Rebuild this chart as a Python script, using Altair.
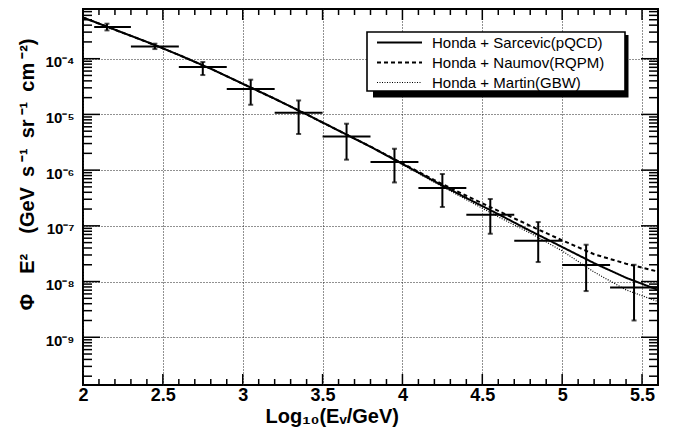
import altair as alt
import pandas as pd

# ---------------- data ----------------
series_names = ["Honda + Sarcevic(pQCD)", "Honda + Naumov(RQPM)", "Honda + Martin(GBW)"]

curve_x = [2.0, 2.2, 2.4, 2.6, 2.8, 3.0, 3.2, 3.4, 3.6, 3.8,
           4.0, 4.2, 4.4, 4.6, 4.8, 5.0, 5.2, 5.4, 5.6]
flux_sarcevic = [5.50e-4, 3.31e-4, 2.00e-4, 1.17e-4, 6.61e-5, 3.55e-5, 1.91e-5, 1.00e-5, 5.13e-6, 2.63e-6,
                 1.29e-6, 6.31e-7, 3.16e-7, 1.62e-7, 8.13e-8, 4.17e-8, 2.14e-8, 1.17e-8, 7.08e-9]
flux_naumov = [5.50e-4, 3.31e-4, 2.00e-4, 1.17e-4, 6.61e-5, 3.55e-5, 1.91e-5, 1.00e-5, 5.13e-6, 2.65e-6,
               1.32e-6, 6.61e-7, 3.47e-7, 1.86e-7, 1.00e-7, 5.50e-8, 3.09e-8, 2.09e-8, 1.51e-8]
flux_martin = [5.50e-4, 3.31e-4, 2.00e-4, 1.17e-4, 6.61e-5, 3.55e-5, 1.91e-5, 1.00e-5, 5.13e-6, 2.61e-6,
               1.26e-6, 6.03e-7, 2.95e-7, 1.45e-7, 7.41e-8, 3.55e-8, 1.48e-8, 7.08e-9, 4.37e-9]

bin_center = [2.15, 2.45, 2.75, 3.05, 3.35, 3.65, 3.95, 4.25, 4.55, 4.85, 5.15, 5.45]
bin_low = [2.07, 2.3, 2.6, 2.9, 3.2, 3.5, 3.8, 4.1, 4.4, 4.7, 5.0, 5.3]
bin_high = [2.3, 2.6, 2.9, 3.2, 3.5, 3.8, 4.1, 4.4, 4.7, 5.0, 5.3, 5.6]
flux_unfolded = [3.71e-4, 1.66e-4, 7.09e-5, 2.86e-5, 1.07e-5, 4.03e-6, 1.40e-6, 4.78e-7, 1.58e-7, 5.40e-8, 1.98e-8, 7.83e-9]
flux_err_low = [3.22e-4, 1.49e-4, 5.09e-5, 1.49e-5, 4.45e-6, 1.54e-6, 6.01e-7, 2.18e-7, 7.21e-8, 2.24e-8, 6.75e-9, 2.0e-9]
flux_err_high = [4.25e-4, 1.86e-4, 8.72e-5, 4.20e-5, 1.78e-5, 6.81e-6, 2.42e-6, 8.51e-7, 3.03e-7, 1.17e-7, 4.58e-8, 2.0e-8]

x_major = [2.0, 2.5, 3.0, 3.5, 4.0, 4.5, 5.0, 5.5]
x_minor = [round(2.0 + 0.1 * i, 1) for i in range(36) if i % 5 != 0]
y_major = [1e-9, 1e-8, 1e-7, 1e-6, 1e-5, 1e-4]
y_minor = [k * 10.0 ** e for e in range(-10, -3) for k in range(2, 10) if 1.39e-10 <= k * 10.0 ** e <= 7.8e-4]

# ---------------- tables ----------------
curves = pd.DataFrame({
    "x": curve_x * 3,
    "flux": flux_sarcevic + flux_naumov + flux_martin,
    "model": [series_names[0]] * len(curve_x) + [series_names[1]] * len(curve_x) + [series_names[2]] * len(curve_x),
})
meas = pd.DataFrame({
    "xc": bin_center, "xlo": bin_low, "xhi": bin_high,
    "flux": flux_unfolded, "lo": flux_err_low, "hi": flux_err_high,
})
caps = pd.DataFrame({"xc": bin_center * 2, "flux": flux_err_low + flux_err_high})

W, H = 575, 376
FONT = "Liberation Sans"

xs = alt.Scale(domain=[2.0, 5.6], nice=False, zero=False)
ys = alt.Scale(type="log", domain=[1.39e-10, 7.8e-4], nice=False)

sup = "['⁰','¹','²','³','⁴','⁵','⁶','⁷','⁸','⁹']"
y_title = "Φ\u2003E²\u2003(GeV\u2002s\u2009⁻¹\u2002sr\u2009⁻¹\u2002cm\u2009⁻²)"

x_lab = alt.Axis(orient="bottom", values=x_major, format=".1~f", ticks=False, tickSize=0, domain=False,
                 grid=True, gridColor="#222", gridDash=[1, 2], gridWidth=1,
                 labelFont=FONT, labelFontSize=18, labelFontWeight="bold", labelColor="black",
                 labelPadding=1, labelFlush=False, labelOverlap=False,
                 title="Log₁₀(Eᵥ/GeV)", titleFont=FONT, titleFontSize=20, titleFontWeight="bold",
                 titleColor="black", titleAlign="left", titleX=182, titleY=37, titleBaseline="alphabetic")
y_lab = alt.Axis(orient="left", values=y_major, labelExpr="'10⁻' + " + sup + "[-round(log(datum.value)/LN10)]",
                 ticks=False, tickSize=0, domain=False,
                 grid=True, gridColor="#222", gridDash=[1, 2], gridWidth=1,
                 labelFont=FONT, labelFontSize=15, labelFontWeight="bold", labelColor="black",
                 labelPadding=9, labelOffset=3, labelOverlap=False,
                 title=y_title, titleFont=FONT, titleFontSize=20,
                 titleFontWeight="bold", titleColor="black", titleAngle=270, titleAlign="right",
                 titleBaseline="middle", titleX=-56, titleY=29)

legend = alt.Legend(orient="none", legendX=289, legendY=26, title=None,
                    symbolType="M-4.5,0H4.5", symbolSize=100,
                    symbolStrokeColor="black", symbolFillColor="transparent",
                    labelFont=FONT, labelFontSize=15, labelColor="black",
                    labelOffset=25, symbolOffset=20, rowPadding=4, padding=0, labelLimit=0)

lines = alt.Chart(curves).mark_line(color="black").encode(
    x=alt.X("x:Q", scale=xs, axis=x_lab),
    y=alt.Y("flux:Q", scale=ys, axis=y_lab),
    strokeDash=alt.StrokeDash("model:N", scale=alt.Scale(domain=series_names, range=[[1, 0], [4, 3], [1, 1.5]]),
                              legend=legend),
    strokeWidth=alt.StrokeWidth("model:N", scale=alt.Scale(type="ordinal", domain=series_names, range=[2, 2, 1.2]),
                                legend=legend),
    order=alt.Order("x:Q"),
)

hbars = alt.Chart(meas).mark_rule(color="black", strokeWidth=2).encode(
    x=alt.X("xlo:Q", scale=xs, axis=x_lab), x2="xhi:Q",
    y=alt.Y("flux:Q", scale=ys, axis=y_lab),
)
vbars = alt.Chart(meas).mark_rule(color="black", strokeWidth=2).encode(
    x=alt.X("xc:Q", scale=xs, axis=x_lab),
    y=alt.Y("lo:Q", scale=ys, axis=y_lab), y2="hi:Q",
)
capmarks = alt.Chart(caps).mark_tick(color="black", orient="horizontal", size=5, thickness=2).encode(
    x=alt.X("xc:Q", scale=xs, axis=x_lab),
    y=alt.Y("flux:Q", scale=ys, axis=y_lab),
)


# ---- ROOT style inward ticks on all four sides (positions from the scales) ----
def xticks(values, y0, y1):
    return alt.Chart(pd.DataFrame({"v": values})).mark_rule(color="black", strokeWidth=1.5).encode(
        x=alt.X("v:Q", scale=xs, axis=x_lab), y=alt.value(y0), y2=alt.value(y1))


def yticks(values, x0, x1):
    return alt.Chart(pd.DataFrame({"v": values})).mark_rule(color="black", strokeWidth=1.5).encode(
        y=alt.Y("v:Q", scale=ys, axis=y_lab), x=alt.value(x0), x2=alt.value(x1))


tick_layers = [
    xticks(x_major, H, H - 11), xticks(x_minor, H, H - 6),
    xticks(x_major, 0, 11), xticks(x_minor, 0, 6),
    yticks(y_major, 0, 17), yticks(y_minor, 0, 9),
    yticks(y_major, W, W - 17), yticks(y_minor, W, W - 9),
]

box_src = alt.Chart(pd.DataFrame({"k": [0]}))
shadow = box_src.mark_rect(color="black").encode(
    x=alt.value(290), x2=alt.value(545.5), y=alt.value(26), y2=alt.value(88.5))
frame = box_src.mark_rect(fill="white", stroke="black", strokeWidth=1.6).encode(
    x=alt.value(284), x2=alt.value(542), y=alt.value(23), y2=alt.value(82))

chart = alt.layer(lines, hbars, vbars, capmarks, *tick_layers, shadow, frame).properties(
    width=W, height=H,
    autosize=alt.AutoSizeParams(type="none"),
    padding={"left": 75, "top": 1, "right": 13, "bottom": 44},
    background="white",
).configure_view(stroke="black", strokeWidth=2)

chart.save("out.html", embed_options={"renderer": "svg", "actions": False})
